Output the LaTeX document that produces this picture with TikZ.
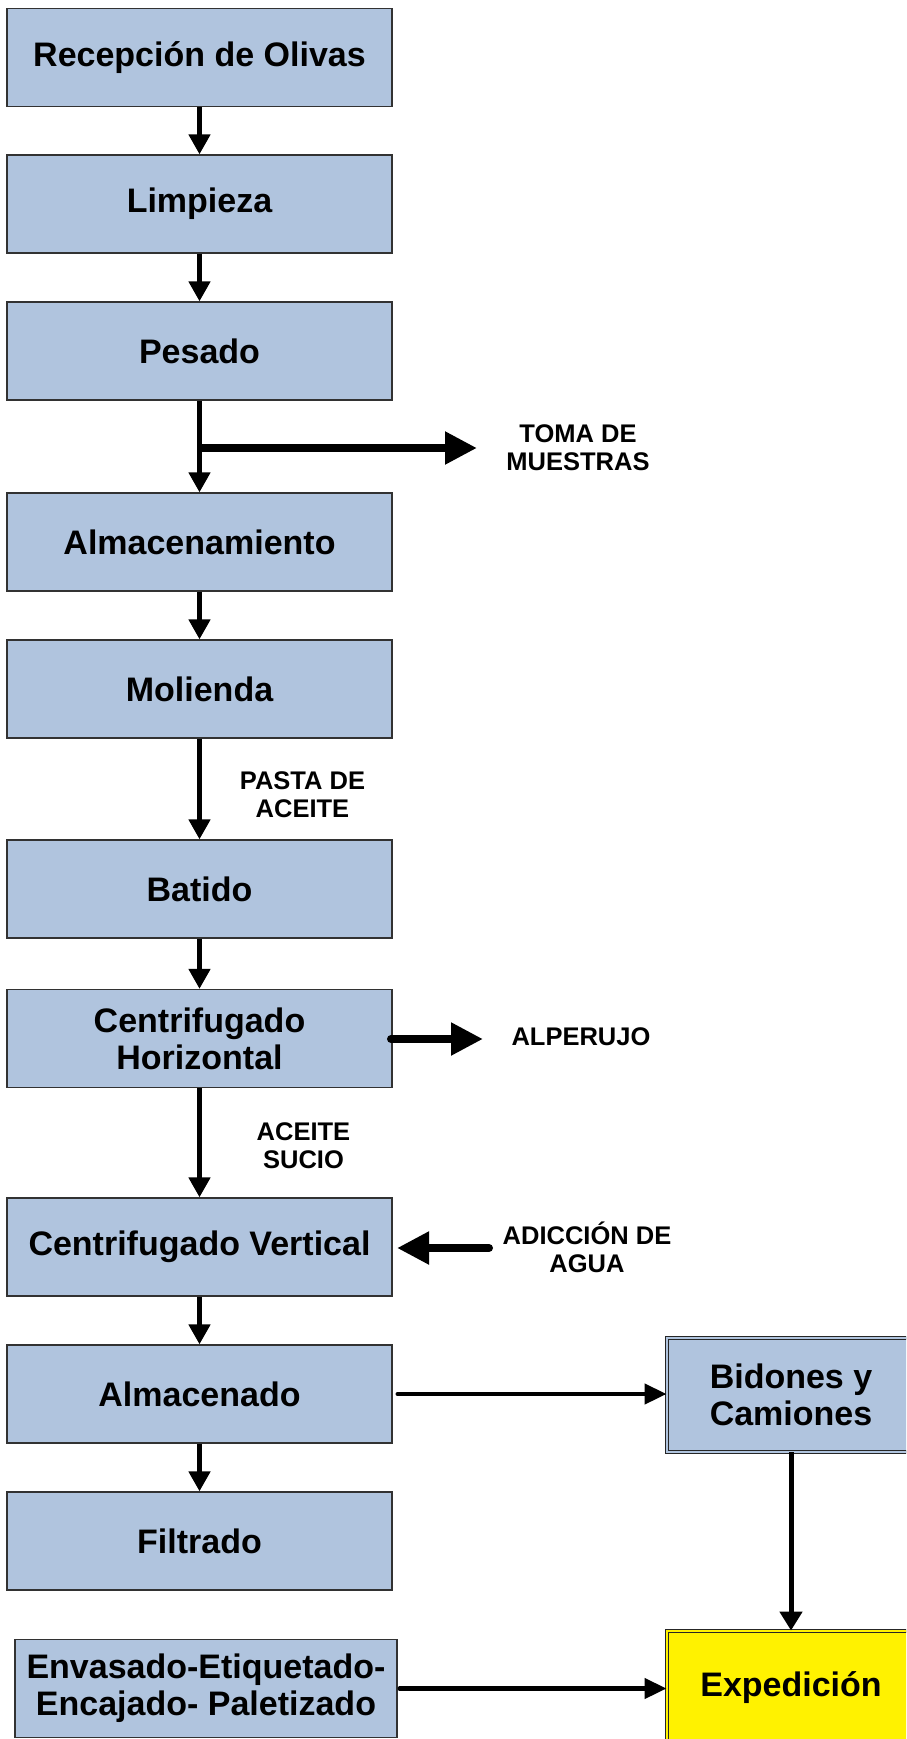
\documentclass[tikz,border=0pt]{standalone}
\usepackage{fontspec}
\setmainfont{Liberation Sans}
\usetikzlibrary{arrows.meta}
\definecolor{boxblue}{RGB}{176,196,222}
\definecolor{boxline}{RGB}{50,50,50}
\begin{document}
\begin{tikzpicture}[x=1pt,y=-1pt,
  box/.style={draw=boxline, line width=1.3pt, fill=boxblue, minimum width=385pt, minimum height=98pt, inner sep=0pt, align=center, font=\bfseries\fontsize{34}{37}\selectfont},
  dbox/.style={draw=black!85, line width=0.9pt, double distance=2.4pt, minimum width=248pt, minimum height=114pt, inner sep=0pt, align=center, font=\bfseries\fontsize{34}{37}\selectfont},
  lbl/.style={font=\bfseries\fontsize{25.5}{28}\selectfont, align=center, inner sep=0pt},
  mainarrow/.style={line width=4.7pt, -{Triangle[length=20pt,width=21pt]}},
  thickarrow/.style={line width=8pt, line cap=round, -{Triangle[length=32pt,width=31pt]}},
  thinarrow/.style={line width=4.3pt, line cap=round, -{Triangle[length=22pt,width=20pt]}}
]
\useasboundingbox (0,0) rectangle (906,1739);
\clip (0,0) rectangle (906,1739);

\node[box] (rec) at (199.5,57.5) {Recepción de Olivas};
\node[box] (lim) at (199.5,204) {Limpieza};
\node[box] (pes) at (199.5,351) {Pesado};
\node[box] (alm) at (199.5,542) {Almacenamiento};
\node[box] (mol) at (199.5,689) {Molienda};
\node[box] (bat) at (199.5,889) {Batido};
\node[box] (cho) at (199.5,1038.5) {Centrifugado\\Horizontal};
\node[box] (cve) at (199.5,1247) {Centrifugado Vertical};
\node[box] (alo) at (199.5,1394) {Almacenado};
\node[box] (fil) at (199.5,1541) {Filtrado};
\node[box, minimum width=382pt] (env) at (206,1688.5) {Envasado-Etiquetado-\\Encajado- Paletizado};

\node[dbox, fill=boxblue, double=boxblue] (bid) at (791,1395) {Bidones y\\Camiones};
\node[dbox, fill=yellow, double=yellow] (exp) at (791,1688) {Expedición};

\node[lbl] (toma) at (578,448) {TOMA DE\\MUESTRAS};
\node[lbl] (pasta) at (302.5,795) {PASTA DE\\ACEITE};
\node[lbl] (alp) at (581,1037) {ALPERUJO};
\node[lbl] (suc) at (303.5,1146) {ACEITE\\SUCIO};
\node[lbl] (agua) at (587,1247) {ADICCIÓN DE\\AGUA};

\draw[mainarrow] (rec.south) -- (lim.north);
\draw[mainarrow] (lim.south) -- (pes.north);
\draw[mainarrow] (pes.south) -- (alm.north);
\draw[mainarrow] (alm.south) -- (mol.north);
\draw[mainarrow] (mol.south) -- (bat.north);
\draw[mainarrow] (bat.south) -- (cho.north);
\draw[mainarrow] (cho.south) -- (cve.north);
\draw[mainarrow] (cve.south) -- (alo.north);
\draw[mainarrow] (alo.south) -- (fil.north);

\coordinate (j) at (201,448);
\coordinate (tmtip) at (477,448);
\draw[thickarrow] (j) -- (tmtip);

\coordinate (alps) at (391,1039);
\coordinate (alpt) at (483,1039);
\draw[thickarrow] (alps) -- (alpt);

\coordinate (aguas) at (489,1248);
\coordinate (aguat) at (397,1248);
\draw[thickarrow] (aguas) -- (aguat);

\draw[thinarrow] ([xshift=5pt]alo.east) -- (alo.east -| bid.west);
\draw[thinarrow] ([xshift=2pt]env.east) -- (env.east -| exp.west);
\draw[line width=5pt, -{Triangle[length=19pt,width=22pt]}] (bid.south) -- (exp.north);
\end{tikzpicture}
\end{document}
